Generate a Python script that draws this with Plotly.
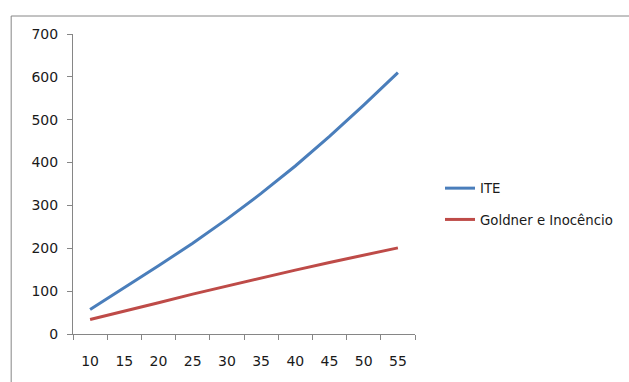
import plotly.graph_objects as go

# Category labels along the horizontal axis
categorias = ["10", "15", "20", "25", "30", "35", "40", "45", "50", "55"]

# Series values
ite = [57, 107, 159, 212, 268, 328, 392, 461, 534, 610]
goldner = [34, 53, 73, 93, 112, 130, 149, 167, 184, 201]

FONT = "'DejaVu Sans', sans-serif"
AXIS_GRAY = "#868686"
TEXT = "#1a1a1a"

fig = go.Figure()
fig.add_trace(go.Scatter(
    x=categorias, y=ite, mode="lines", name="ITE",
    line=dict(color="#4A7EBB", width=3), legendgroup="a",
))
fig.add_trace(go.Scatter(
    x=categorias, y=goldner, mode="lines", name="Goldner e Inocêncio",
    line=dict(color="#BE4B48", width=3), legendgroup="b",
))

L, R, T, B = 73, 213, 34, 48
W, H = 629, 382
pw, ph = W - L - R, H - T - B

# outer chart frame (runs off the right and bottom edges)
fig.add_shape(
    type="rect", xref="paper", yref="paper",
    x0=(11 - L) / pw, x1=(W + 20 - L) / pw,
    y0=-(H + 20 - (H - B)) / ph, y1=1 + (T - 16) / ph,
    line=dict(color=AXIS_GRAY, width=1), fillcolor="rgba(0,0,0,0)", layer="below",
)

fig.update_layout(
    width=W, height=H,
    margin=dict(l=L, r=R, t=T, b=B, pad=0),
    paper_bgcolor="white", plot_bgcolor="white",
    font=dict(family=FONT, size=14, color=TEXT),
    showlegend=True,
    legend=dict(
        x=(440 - L) / pw, xanchor="left",
        y=1 - (173 - T) / ph, yanchor="top",
        font=dict(family=FONT, size=13.3, color=TEXT),
        tracegroupgap=11, itemwidth=30,
        bgcolor="rgba(0,0,0,0)",
    ),
    xaxis=dict(
        type="category", range=[-0.5, 9.5],
        tickson="boundaries", ticks="outside", ticklen=5,
        tickcolor=AXIS_GRAY, showline=True, linecolor=AXIS_GRAY, linewidth=1,
        showgrid=False, zeroline=False, ticklabelstandoff=14,
        tickfont=dict(family=FONT, size=14, color=TEXT),
    ),
    yaxis=dict(
        range=[0, 700], dtick=100, tick0=0,
        ticks="outside", ticklen=5, tickcolor=AXIS_GRAY,
        showline=True, linecolor=AXIS_GRAY, linewidth=1,
        showgrid=False, zeroline=False, ticklabelstandoff=6,
        tickfont=dict(family=FONT, size=14, color=TEXT),
    ),
)

fig.write_html("out.html")
